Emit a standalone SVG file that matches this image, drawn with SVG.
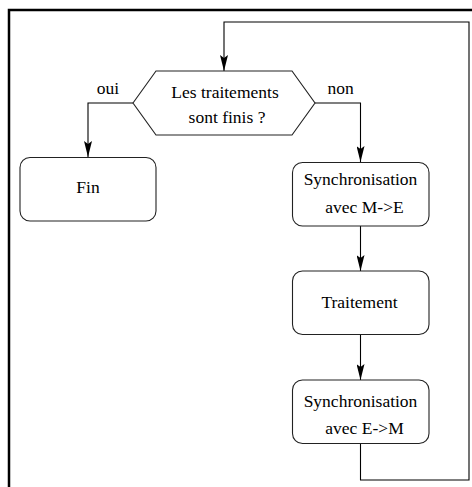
<svg xmlns="http://www.w3.org/2000/svg" width="472" height="487" viewBox="0 0 472 487">
  <style>
    .frame { fill: none; stroke: #000; stroke-width: 2.5; }
    .box { fill: #fff; stroke: #222; stroke-width: 1.1; }
    .link { fill: none; stroke: #000; stroke-width: 1.1; }
    .lbl { font-family: 'Liberation Serif', Tinos, 'Times New Roman', 'DejaVu Serif', serif; font-size: 17.5px; fill: #000; text-anchor: middle; }
  </style>
  <defs>
    <marker id="arrow" viewBox="0 0 16 8" refX="16" refY="4" markerWidth="16" markerHeight="8" markerUnits="userSpaceOnUse" orient="auto">
      <path d="M0,0 L16,4 L0,8 L3,4 Z" fill="#000"/>
    </marker>
  </defs>

  <rect width="472" height="487" fill="#fff"/>

  <!-- page frame (top and left edges) -->
  <path class="frame" d="M9,487 V10 H472"/>

  <g id="connectors">
    <!-- loop back to the test -->
    <path class="link" d="M360.5,443.5 V480 H469 V22 H224 V71" marker-end="url(#arrow)"/>
    <!-- oui branch -->
    <path class="link" d="M133,103 H88 V157" marker-end="url(#arrow)"/>
    <!-- non branch -->
    <path class="link" d="M315,103 H360.5 V162" marker-end="url(#arrow)"/>
    <path class="link" d="M360.5,226 V271" marker-end="url(#arrow)"/>
    <path class="link" d="M360.5,334.5 V380" marker-end="url(#arrow)"/>
  </g>

  <g id="test">
    <polygon class="box" points="133,103 156,71 292,71 315,103 292,135 156,135"/>
    <text class="lbl" x="225" y="98" font-family="Liberation Serif, serif">Les traitements</text>
    <text class="lbl" x="227" y="123" font-family="Liberation Serif, serif">sont finis ?</text>
  </g>

  <g id="label-oui">
    <text class="lbl" x="108" y="94" font-family="Liberation Serif, serif">oui</text>
  </g>
  <g id="label-non">
    <text class="lbl" x="340.5" y="94" font-family="Liberation Serif, serif">non</text>
  </g>

  <g id="fin">
    <rect class="box" x="20" y="157.5" width="136" height="63.5" rx="10"/>
    <text class="lbl" x="88" y="193" font-family="Liberation Serif, serif">Fin</text>
  </g>

  <g id="sync-me">
    <rect class="box" x="292.5" y="162.5" width="136.5" height="63.5" rx="10"/>
    <text class="lbl" x="360.5" y="185" font-family="Liberation Serif, serif">Synchronisation</text>
    <text class="lbl" x="364.5" y="212.5" font-family="Liberation Serif, serif">avec M-&gt;E</text>
  </g>

  <g id="traitement">
    <rect class="box" x="292.5" y="271" width="136.5" height="63.5" rx="10"/>
    <text class="lbl" x="359.5" y="308" font-family="Liberation Serif, serif">Traitement</text>
  </g>

  <g id="sync-em">
    <rect class="box" x="292.5" y="380" width="136.5" height="63.5" rx="10"/>
    <text class="lbl" x="360.5" y="407" font-family="Liberation Serif, serif">Synchronisation</text>
    <text class="lbl" x="364.5" y="434" font-family="Liberation Serif, serif">avec E-&gt;M</text>
  </g>
</svg>
